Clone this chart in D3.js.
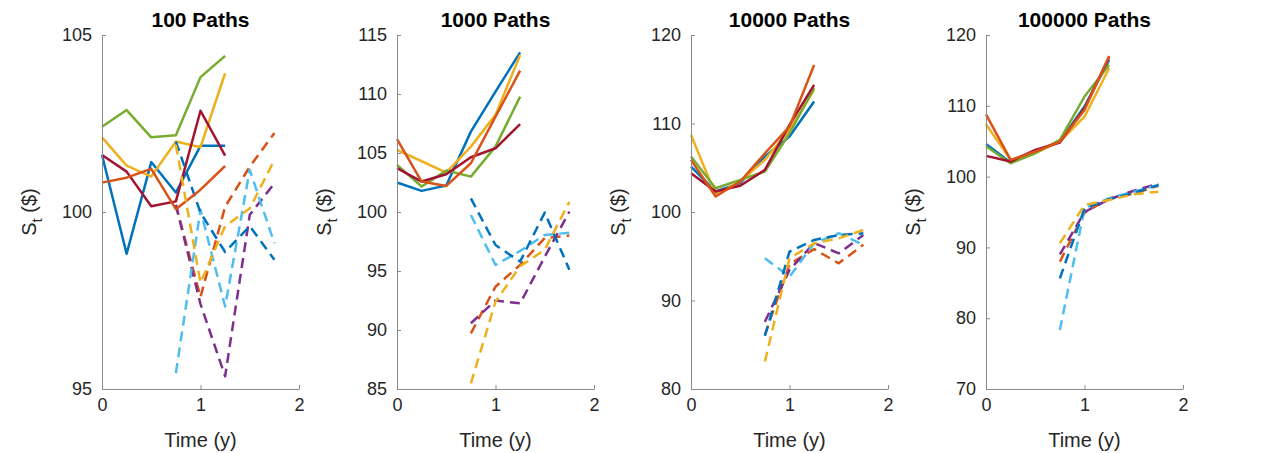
<!DOCTYPE html>
<html>
<head>
<meta charset="utf-8">
<script src="https://cdn.jsdelivr.net/npm/d3@7"></script>
<style>
    body { margin: 0; background: #fff; }
    #chart { width: 1262px; height: 453px; }
    text { font-family: "Liberation Sans", Arial, sans-serif; fill: #262626; }
</style>
</head>
<body>
<div id="chart"></div>
<script>
// time grids (years)
const tSolid = [0, 0.25, 0.5, 0.75, 1, 1.25];
const tDashed = [0.75, 1, 1.25, 1.5, 1.75];

// panel titles and y ranges / ticks
const titles = ['100 Paths', '1000 Paths', '10000 Paths', '100000 Paths'];
const yDomains = [[95, 105], [85, 115], [80, 120], [70, 120]];
const yTicks = [[95, 100, 105], [85, 90, 95, 100, 105, 110, 115], [80, 90, 100, 110, 120], [70, 80, 90, 100, 110, 120]];
const xTicks = [0, 1, 2];

// line styles in plotting order (solid / dashed alternate)
const lineColors = ['#0072BD', '#D95319', '#EDB120', '#7E2F8E', '#77AC30', '#4DBEEE', '#A2142F', '#0072BD', '#D95319', '#EDB120'];
const lineDashed = [false, true, false, true, false, true, false, true, false, true];

// price paths per panel, in plotting order
const paths100 = [
    [101.61, 98.82, 101.41, 100.55, 101.87, 101.87],
    [100.2, 97.6, 100.15, 101.28, 102.23],
    [102.11, 101.31, 101.0, 101.99, 101.83, 103.92],
    [100.2, 97.4, 95.36, 99.92, 100.81],
    [102.41, 102.88, 102.11, 102.17, 103.81, 104.41],
    [95.45, 100.06, 97.33, 101.19, 99.12],
    [101.61, 101.14, 100.16, 100.30, 102.86, 101.59],
    [101.99, 99.98, 98.87, 99.6, 98.65],
    [100.83, 100.97, 101.22, 100.08, 100.63, 101.30],
    [101.9, 98.0, 99.6, 100.1, 101.47]
];
const paths1000 = [
    [102.5, 101.79, 102.24, 106.81, 110.2, 113.53],
    [89.72, 93.67, 95.51, 97.8, 98.0],
    [105.26, 104.3, 103.34, 105.54, 108.23, 113.3],
    [90.57, 92.5, 92.26, 96.2, 100.03],
    [103.99, 102.16, 103.51, 103.0, 105.54, 109.78],
    [99.75, 95.51, 96.7, 98.05, 98.25],
    [103.71, 102.58, 103.2, 104.64, 105.4, 107.44],
    [101.16, 97.2, 95.8, 99.95, 95.1],
    [106.17, 102.58, 102.21, 104.13, 108.08, 111.98],
    [85.48, 92.4, 95.4, 96.8, 100.87]
];
const paths10000 = [
    [105.14, 102.32, 103.26, 106.27, 108.53, 112.48],
    [86.1, 94.1, 95.8, 94.2, 96.3],
    [108.71, 101.94, 103.45, 105.89, 109.28, 113.79],
    [87.6, 93.45, 96.5, 95.33, 97.4],
    [106.27, 102.69, 103.63, 104.57, 108.9, 114.0],
    [94.77, 92.69, 96.46, 97.6, 96.27],
    [104.39, 102.32, 102.96, 104.76, 109.84, 114.36],
    [86.0, 95.52, 96.84, 97.4, 97.59],
    [105.89, 101.75, 103.45, 106.64, 109.65, 116.61],
    [83.1, 94.77, 96.46, 97.02, 97.97]
];
const paths100000 = [
    [104.62, 101.99, 103.54, 104.95, 109.89, 116.47],
    [87.98, 94.9, 96.9, 97.6, 98.7],
    [107.39, 102.36, 103.3, 104.95, 108.48, 115.3],
    [89.0, 95.0, 96.8, 98.0, 99.0],
    [104.3, 101.89, 103.3, 105.18, 111.3, 115.77],
    [78.33, 95.52, 96.93, 97.87, 98.81],
    [102.93, 102.13, 103.77, 104.81, 109.65, 116.85],
    [85.63, 95.5, 96.8, 97.7, 98.8],
    [108.8, 102.36, 103.54, 104.95, 109.42, 117.04],
    [90.58, 95.99, 96.7, 97.5, 97.87]
];
const allPaths = [paths100, paths1000, paths10000, paths100000];

// layout
const panelLeft = [102, 397, 691, 986];
const panelWidth = 197;
const plotTop = 35, plotBottom = 389;
const fontStack = '"Liberation Sans", Arial, sans-serif';

const svg = d3.select('#chart')
    .append('svg')
    .attr('width', 1262)
    .attr('height', 453);

svg.append('rect').attr('width', 1262).attr('height', 453).attr('fill', '#fff');

allPaths.forEach((paths, i) => {
    const g = svg.append('g').attr('transform', `translate(${panelLeft[i]},0)`);

    const x = d3.scaleLinear().domain([0, 2]).range([0, panelWidth]);
    const y = d3.scaleLinear().domain(yDomains[i]).range([plotBottom, plotTop]);

    // lines
    const line = d3.line().x(d => x(d[0])).y(d => y(d[1]));
    paths.forEach((vals, k) => {
        const ts = lineDashed[k] ? tDashed : tSolid;
        g.append('path')
            .datum(vals.map((v, j) => [ts[j], v]))
            .attr('d', line)
            .attr('fill', 'none')
            .attr('stroke', lineColors[k])
            .attr('stroke-width', 2.5)
            .attr('stroke-linejoin', 'round')
            .attr('stroke-dasharray', lineDashed[k] ? '10,6' : null);
    });

    // axes (MATLAB style, inward ticks, box off)
    g.append('g')
        .attr('transform', `translate(0,${plotBottom})`)
        .call(d3.axisBottom(x).tickValues(xTicks).tickFormat(d3.format('d')).tickSizeInner(-4).tickSizeOuter(0).tickPadding(9))
        .call(a => a.select('.domain').attr('stroke', '#8a8a8a'))
        .call(a => a.selectAll('.tick line').attr('stroke', '#8a8a8a'))
        .call(a => a.selectAll('.tick text').attr('font-size', 18).attr('fill', '#262626').attr('font-family', fontStack));

    g.append('g')
        .call(d3.axisLeft(y).tickValues(yTicks[i]).tickSizeInner(-4).tickSizeOuter(0).tickPadding(10))
        .call(a => a.select('.domain').attr('stroke', '#8a8a8a'))
        .call(a => a.selectAll('.tick line').attr('stroke', '#8a8a8a'))
        .call(a => a.selectAll('.tick text').attr('font-size', 18).attr('fill', '#262626').attr('font-family', fontStack));

    // title
    g.append('text')
        .attr('x', panelWidth / 2)
        .attr('y', 27)
        .attr('text-anchor', 'middle')
        .style('font-size', '21px')
        .style('font-weight', 'bold')
        .style('fill', '#000')
        .text(titles[i]);

    // x label
    g.append('text')
        .attr('x', panelWidth / 2)
        .attr('y', 447)
        .attr('text-anchor', 'middle')
        .style('font-size', '20px')
        .text('Time (y)');

    // y label
    const yl = g.append('text')
        .attr('transform', `translate(-66,${(plotTop + plotBottom) / 2}) rotate(-90)`)
        .attr('text-anchor', 'middle')
        .style('font-size', '20px');
    yl.append('tspan').text('S');
    yl.append('tspan').attr('dy', 6).style('font-size', '15px').text('t');
    yl.append('tspan').attr('dy', -6).text(' ($)');
});
</script>
</body>
</html>
